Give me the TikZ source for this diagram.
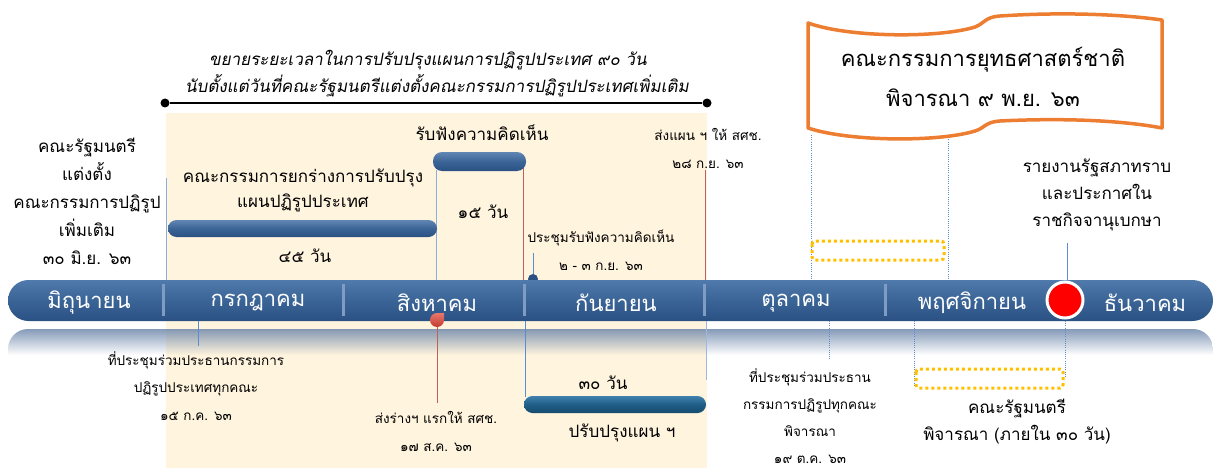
\documentclass[tikz,border=0pt]{standalone}
\usepackage{fontspec}
\newfontfamily\thai[Script=Thai]{Loma}
\newfontfamily\thaiit[Script=Thai,FakeSlant=0.18]{Loma}
\definecolor{cream}{HTML}{FFF4DE}
\definecolor{barA}{HTML}{5079AC}
\definecolor{barB}{HTML}{3B6496}
\definecolor{barC}{HTML}{2B5183}
\definecolor{sepcol}{HTML}{7F9CC4}
\definecolor{lblue}{HTML}{5B8BD0}
\definecolor{lred}{HTML}{C0605A}
\definecolor{flagcol}{HTML}{ED7D31}
\definecolor{gold}{HTML}{FFC000}
\definecolor{refl}{HTML}{7089AC}
\definecolor{tealA}{HTML}{3F80AC}
\definecolor{tealB}{HTML}{1F5E88}
\definecolor{tealC}{HTML}{164A6E}
\definecolor{dropA}{HTML}{E8776C}
\definecolor{dropB}{HTML}{C23A30}
\begin{document}
\begin{tikzpicture}[x=1pt,y=-1pt,
 txtbig/.style={font=\thai\fontsize{17}{27}\selectfont,align=center,inner sep=0pt},
 txtsmall/.style={font=\thai\fontsize{13.5}{28}\selectfont,align=center,inner sep=0pt},
 txtmonth/.style={font=\thai\fontsize{22}{26}\selectfont,text=white,inner sep=0pt},
 txtflag/.style={font=\thai\fontsize{22}{40}\selectfont,align=center,inner sep=0pt},
 txtit/.style={font=\thaiit\fontsize{17}{26}\selectfont,inner sep=0pt},
 bl/.style={draw=lblue,line width=0.9pt},
 rl/.style={draw=lred,line width=0.9pt},
 dl/.style={draw=lblue,line width=0.8pt,dash pattern=on 1pt off 1.2pt},
 goldbox/.style={draw=gold,line width=3pt,dash pattern=on 3pt off 3pt,rounded corners=3pt},
 monthsep/.style={draw=sepcol,line width=3pt},
 bluebar/.style={top color=barA!90!white,bottom color=barC,middle color=barB},
 tealbar/.style={top color=tealA,bottom color=tealC,middle color=tealB},
]
\useasboundingbox (0,0) rectangle (1217,468);
% cream band
\fill[cream] (166,113) rectangle (707,468);

% top bracket
\node[circle,fill=black,inner sep=0pt,minimum size=9pt] (bs) at (165,103) {};
\node[circle,fill=black,inner sep=0pt,minimum size=9pt] (be) at (707,103) {};
\draw[line width=1.2pt] (bs) -- (be);
\node[txtit] (ext1) at (428,60) {ขยายระยะเวลาในการปรับปรุงแผนการปฏิรูปประเทศ ๙๐ วัน};
\node[txtit] (ext2) at (437,86) {นับตั้งแต่วันที่คณะรัฐมนตรีแต่งตั้งคณะกรรมการปฏิรูปประเทศเพิ่มเติม};

% connector end points above the bar
\coordinate (a1) at (166,178); \coordinate (a1b) at (166,282);
\coordinate (a2) at (436,170); \coordinate (a2b) at (436,282);
\coordinate (a3) at (523,165); \coordinate (a3b) at (523,282);
\coordinate (a4) at (705,170); \coordinate (a4b) at (705,282);
\coordinate (a5) at (533,253); \coordinate (a5b) at (533,280);
\coordinate (a6) at (811,135); \coordinate (a6b) at (811,282);
\coordinate (a7) at (948,135); \coordinate (a7b) at (948,282);
\coordinate (a8) at (1067,243); \coordinate (a8b) at (1067,282);
\draw[bl,draw=lblue!70] (a1) -- (a1b);
\draw[bl,draw=lblue!70] (a2) -- (a2b);
\draw[rl] (a3) -- (a3b);
\draw[rl] (a4) -- (a4b);
\draw[bl] (a5) -- (a5b);
\draw[dl] (a6) -- (a6b);
\draw[dl] (a7) -- (a7b);
\draw[bl] (a8) -- (a8b);

% period bars
\shade[bluebar,rounded corners=8.5pt] (168,220) rectangle (437,237);
\shade[bluebar,rounded corners=9pt] (433,152) rectangle (526,171);
\shade[tealbar,rounded corners=8.5pt] (524,396) rectangle (706,413);

% reflection
\begin{scope}
\clip[rounded corners=20pt] (8,329) rectangle (1213,400);
\foreach \i in {0,...,25} {
  \pgfmathsetmacro\op{0.85*(1-\i/26)}
  \fill[refl,opacity=\op] (8,329+\i) rectangle (1213,330.2+\i);
}
\end{scope}

% main timeline bar
\node[circle,fill=barC,inner sep=0pt,minimum size=10pt] (sepdot) at (533,279) {};
\shade[top color=barA,bottom color=barC,middle color=barB,rounded corners=20.5pt] (8,280) rectangle (1213,321);
\foreach \x in {163,343,524,704,885} \draw[monthsep] (\x,284) -- (\x,316);
\node[txtmonth] (m6) at (89,303) {มิถุนายน};
\node[txtmonth] (m7) at (258,303) {กรกฎาคม};
\node[txtmonth] (m8) at (437,303) {สิงหาคม};
\node[txtmonth] (m9) at (616,303) {กันยายน};
\node[txtmonth] (m10) at (796,303) {ตุลาคม};
\node[txtmonth] (m11) at (972,303) {พฤศจิกายน};
\node[txtmonth] (m12) at (1145,303) {ธันวาคม};

% markers
\node[circle,fill=red,draw=white,line width=3pt,minimum size=36pt,inner sep=0pt] (dot) at (1065,300) {};
\shade[top color=dropA,bottom color=dropB] (437,313) -- (444,313) -- (444,320) arc (0:270:7) -- cycle;
\coordinate (drop) at (437,327);

% connectors below the bar
\coordinate (b1) at (198,321); \coordinate (b1b) at (198,346);
\coordinate (b2b) at (437,403);
\coordinate (b3) at (525,321); \coordinate (b3b) at (525,397);
\coordinate (b4) at (706,321); \coordinate (b4b) at (706,380);
\coordinate (b5) at (829,321); \coordinate (b5b) at (829,360);
\coordinate (b6) at (914,321); \coordinate (b6b) at (914,387);
\coordinate (b7) at (1065,321); \coordinate (b7b) at (1065,378);
\draw[bl] (b1) -- (b1b);
\draw[rl] (drop) -- (b2b);
\draw[bl] (b3) -- (b3b);
\draw[bl,draw=lblue!60] (b4) -- (b4b);
\draw[dl] (b5) -- (b5b);
\draw[dl] (b6) -- (b6b);
\draw[dl] (b7) -- (b7b);

% gold dotted boxes
\draw[goldbox] (812,241) rectangle (944,260);
\draw[goldbox] (916,369) rectangle (1063,388);

% flag banner
\draw[flagcol,line width=3.5pt,fill=white,line join=round]
 (808,23) .. controls (850,38) and (940,38) .. (975,27)
 .. controls (985,23) and (985,17) .. (1000,16)
 .. controls (1060,12) and (1120,14) .. (1162,20)
 -- (1162,128)
 .. controls (1120,120) and (1060,118) .. (1000,121)
 .. controls (985,122) and (985,128) .. (975,131)
 .. controls (940,142) and (850,142) .. (808,128) -- cycle;
\node[txtflag] (flagtxt) at (983,77) {คณะกรรมการยุทธศาสตร์ชาติ\\พิจารณา ๙ พ.ย. ๖๓};

% labels above
\node[txtbig,font=\thai\fontsize{17}{28}\selectfont] (l1) at (87,201) {คณะรัฐมนตรี\\แต่งตั้ง\\คณะกรรมการปฏิรูป\\เพิ่มเติม\\๓๐ มิ.ย. ๖๓};
\node[txtbig,font=\thai\fontsize{17}{25}\selectfont] (l2) at (303,190) {คณะกรรมการยกร่างการปรับปรุง\\แผนปฏิรูปประเทศ};
\node[txtbig] (l2d) at (305,256) {๔๕ วัน};
\node[txtbig] (l3) at (482,133) {รับฟังความคิดเห็น};
\node[txtbig] (l3d) at (483,212) {๑๕ วัน};
\node[txtsmall] (l4) at (708,148) {ส่งแผน ฯ ให้ สศช.\\๒๘ ก.ย. ๖๓};
\node[txtsmall] (l5) at (601,250) {ประชุมรับฟังความคิดเห็น\\๒ - ๓ ก.ย. ๖๓};
\node[txtbig] (l6) at (1097,195) {รายงานรัฐสภาทราบ\\และประกาศใน\\ราชกิจจานุเบกษา};

% labels below
\node[txtsmall,font=\thai\fontsize{13.5}{27.5}\selectfont] (u1) at (196,386) {ที่ประชุมร่วมประธานกรรมการ\\ปฏิรูปประเทศทุกคณะ\\๑๕ ก.ค. ๖๓};
\node[txtsmall] (u2) at (436,431) {ส่งร่างฯ แรกให้ สศช.\\๑๗ ส.ค. ๖๓};
\node[txtbig] (u3) at (603,383) {๓๐ วัน};
\node[txtbig] (u3b) at (622,433) {ปรับปรุงแผน ฯ};
\node[txtsmall,font=\thai\fontsize{13.5}{27}\selectfont] (u4) at (810,416) {ที่ประชุมร่วมประธาน\\กรรมการปฏิรูปทุกคณะ\\พิจารณา\\๑๙ ต.ค. ๖๓};
\node[txtbig,font=\thai\fontsize{17}{27}\selectfont] (u5) at (1017,422) {คณะรัฐมนตรี\\พิจารณา (ภายใน ๓๐ วัน)};
\end{tikzpicture}
\end{document}
